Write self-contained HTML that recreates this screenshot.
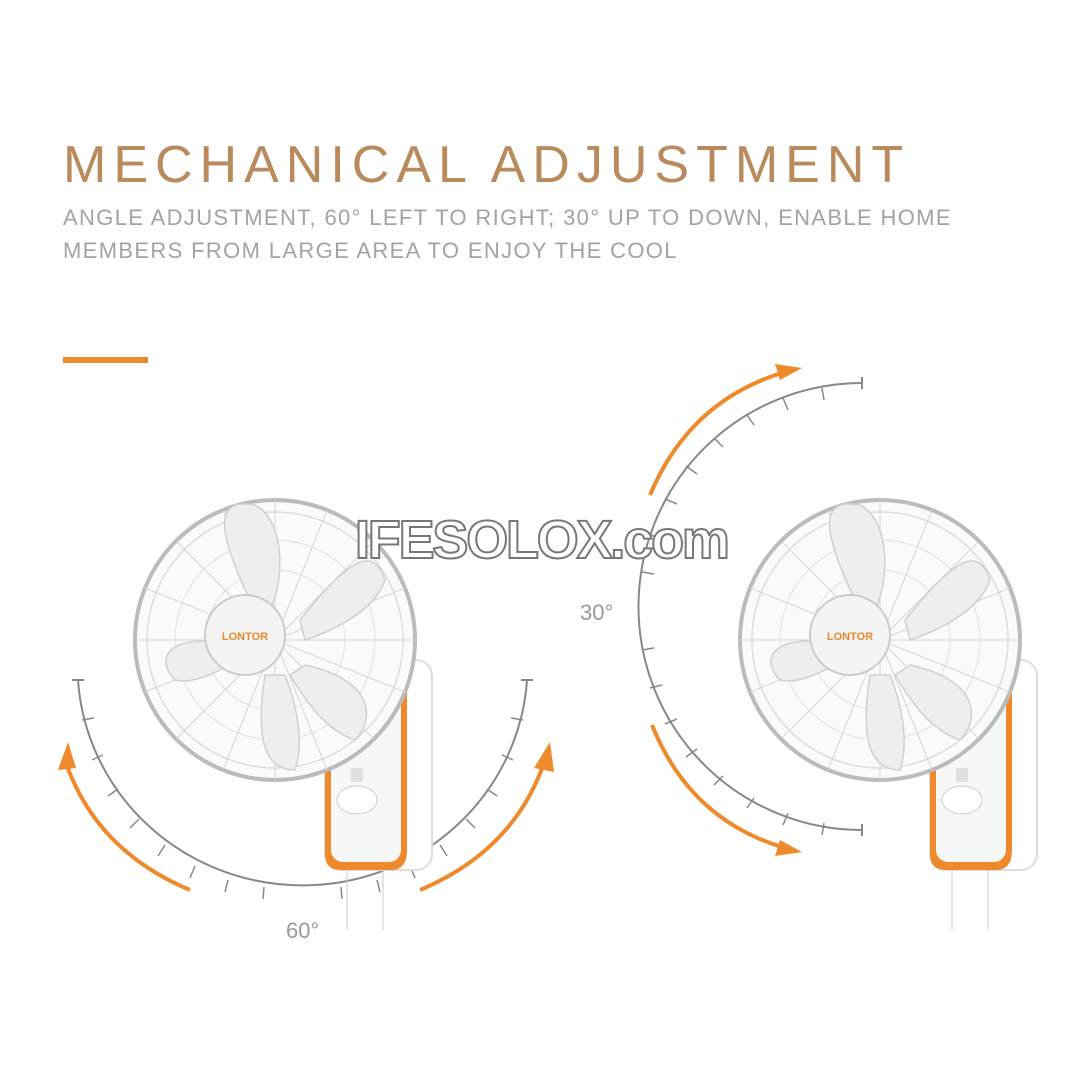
<!DOCTYPE html>
<html><head><meta charset="utf-8"><style>
body{margin:0;width:1080px;height:1080px;background:#fff;overflow:hidden;font-family:"Liberation Sans",sans-serif}
</style></head><body>
<svg width="1080" height="1080" viewBox="0 0 1080 1080" xmlns="http://www.w3.org/2000/svg">
<defs>
<g id="fan">
  <circle cx="0" cy="0" r="140" fill="#fafafa" stroke="#bbb" stroke-width="4"/>
  <circle cx="0" cy="0" r="128" fill="none" stroke="#ddd" stroke-width="1.5"/>
  <circle cx="0" cy="0" r="100" fill="none" stroke="#e2e2e2" stroke-width="1"/>
  <circle cx="0" cy="0" r="70" fill="none" stroke="#e2e2e2" stroke-width="1"/>
  <g stroke="#d6d6d6" stroke-width="1">
    <line x1="-140" y1="0" x2="140" y2="0"/><line x1="0" y1="-140" x2="0" y2="140"/>
    <line x1="-99" y1="-99" x2="99" y2="99"/><line x1="-99" y1="99" x2="99" y2="-99"/>
    <line x1="-130" y1="-52" x2="130" y2="52"/><line x1="-130" y1="52" x2="130" y2="-52"/>
    <line x1="-52" y1="-130" x2="52" y2="130"/><line x1="-52" y1="130" x2="52" y2="-130"/>
  </g>
  <g fill="#eeeeee" stroke="#d0d0d0" stroke-width="1.5">
    <path d="M-20,-30 C-70,-130 -50,-140 -20,-135 C10,-120 10,-60 -5,-30Z"/>
    <path d="M25,-20 C80,-90 100,-90 110,-60 C100,-30 60,-10 30,0Z"/>
    <path d="M30,25 C100,40 100,80 80,100 C50,90 30,60 15,35Z"/>
    <path d="M-10,35 C-20,100 -10,130 20,130 C30,100 20,60 10,35Z"/>
    <path d="M-35,5 C-110,-10 -120,20 -100,40 C-80,45 -55,30 -35,20Z"/>
  </g>
  <circle cx="-30" cy="-5" r="40" fill="#f4f4f4" stroke="#ccc" stroke-width="2"/>
  <text x="-30" y="0" text-anchor="middle" font-size="11" font-weight="bold" fill="#e8892a">LONTOR</text>
</g>
<g id="mount">
  <rect x="0" y="0" width="107" height="210" rx="16" fill="#fff" stroke="#ddd" stroke-width="2"/>
  <path d="M0,0 L70,0 Q82,0 82,14 L82,190 Q82,210 66,210 L16,210 Q0,210 0,194Z" fill="#ee8a2b"/>
  <rect x="6" y="10" width="70" height="192" rx="12" fill="#f7f7f7"/>
  <ellipse cx="32" cy="140" rx="20" ry="14" fill="#fff" stroke="#ccc"/>
  <rect x="26" y="108" width="12" height="14" fill="#e0e0e0"/>
  <line x1="22" y1="210" x2="22" y2="270" stroke="#ccc"/>
  <line x1="58" y1="210" x2="58" y2="270" stroke="#ccc"/>
</g>
</defs>

<text x="63" y="182" font-size="52" fill="#b98a5c" letter-spacing="7.0">MECHANICAL ADJUSTMENT</text>
<text x="63" y="225" font-size="22" fill="#a3a3a3" letter-spacing="1.35">ANGLE ADJUSTMENT, 60° LEFT TO RIGHT; 30° UP TO DOWN, ENABLE HOME</text>
<text x="63" y="258" font-size="22" fill="#a3a3a3" letter-spacing="1.35">MEMBERS FROM LARGE AREA TO ENJOY THE COOL</text>
<rect x="63" y="357" width="85" height="6" fill="#ee8a2b"/>

<path d="M78,680 A225,220 0 0 0 527,680" fill="none" stroke="#888" stroke-width="2"/>
<line x1="72" y1="680" x2="84" y2="680" stroke="#888" stroke-width="2"/>
<line x1="521" y1="680" x2="533" y2="680" stroke="#888" stroke-width="2"/>
<g stroke="#888" stroke-width="1.5">
<line x1="82" y1="720" x2="94" y2="718"/><line x1="92" y1="760" x2="103" y2="755"/>
<line x1="108" y1="796" x2="118" y2="789"/><line x1="130" y1="828" x2="139" y2="819"/>
<line x1="158" y1="856" x2="165" y2="845"/><line x1="190" y1="878" x2="195" y2="866"/>
<line x1="225" y1="892" x2="228" y2="880"/><line x1="263" y1="899" x2="264" y2="887"/>
<line x1="342" y1="899" x2="341" y2="887"/><line x1="380" y1="892" x2="377" y2="880"/>
<line x1="415" y1="878" x2="410" y2="866"/><line x1="447" y1="856" x2="440" y2="845"/>
<line x1="475" y1="828" x2="466" y2="819"/><line x1="497" y1="796" x2="487" y2="789"/>
<line x1="513" y1="760" x2="502" y2="755"/><line x1="523" y1="720" x2="511" y2="718"/>
</g>
<path d="M65,760 Q95,850 190,890" fill="none" stroke="#ee8a2b" stroke-width="4"/>
<path d="M58,770 L68,742 L76,768Z" fill="#ee8a2b"/>
<path d="M420,890 Q515,850 545,760" fill="none" stroke="#ee8a2b" stroke-width="4"/>
<path d="M534,768 L550,742 L554,772Z" fill="#ee8a2b"/>
<text x="286" y="938" font-size="22" fill="#999">60°</text>

<path d="M862,383 A223,223 0 0 0 862,830" fill="none" stroke="#888" stroke-width="2"/>
<line x1="862" y1="377" x2="862" y2="389" stroke="#888" stroke-width="2"/>
<line x1="862" y1="824" x2="862" y2="836" stroke="#888" stroke-width="2"/>
<g stroke="#888" stroke-width="1.5">
<line x1="822" y1="388" x2="824" y2="400"/><line x1="783" y1="398" x2="788" y2="410"/>
<line x1="747" y1="415" x2="754" y2="425"/><line x1="714" y1="438" x2="723" y2="447"/>
<line x1="686" y1="466" x2="697" y2="474"/><line x1="665" y1="499" x2="677" y2="504"/>
<line x1="650" y1="535" x2="662" y2="538"/><line x1="642" y1="572" x2="654" y2="574"/>
<line x1="642" y1="650" x2="654" y2="648"/><line x1="650" y1="688" x2="662" y2="685"/>
<line x1="665" y1="724" x2="677" y2="719"/><line x1="686" y1="757" x2="697" y2="749"/>
<line x1="714" y1="785" x2="723" y2="776"/><line x1="747" y1="808" x2="754" y2="798"/>
<line x1="783" y1="825" x2="788" y2="813"/><line x1="822" y1="835" x2="824" y2="823"/>
</g>
<path d="M650,495 Q690,400 785,372" fill="none" stroke="#ee8a2b" stroke-width="4"/>
<path d="M775,364 L802,368 L780,380Z" fill="#ee8a2b"/>
<path d="M652,725 Q690,820 785,848" fill="none" stroke="#ee8a2b" stroke-width="4"/>
<path d="M780,840 L802,852 L775,856Z" fill="#ee8a2b"/>
<text x="580" y="620" font-size="22" fill="#999">30°</text>

<use href="#mount" x="325" y="660"/>
<use href="#fan" x="275" y="640"/>
<use href="#mount" x="930" y="660"/>
<use href="#fan" x="880" y="640"/>

<text x="355" y="558" font-size="54" font-weight="bold" fill="#fff" stroke="#777" stroke-width="2" letter-spacing="-2.2">IFESOLOX.com</text>
</svg>
</body></html>
